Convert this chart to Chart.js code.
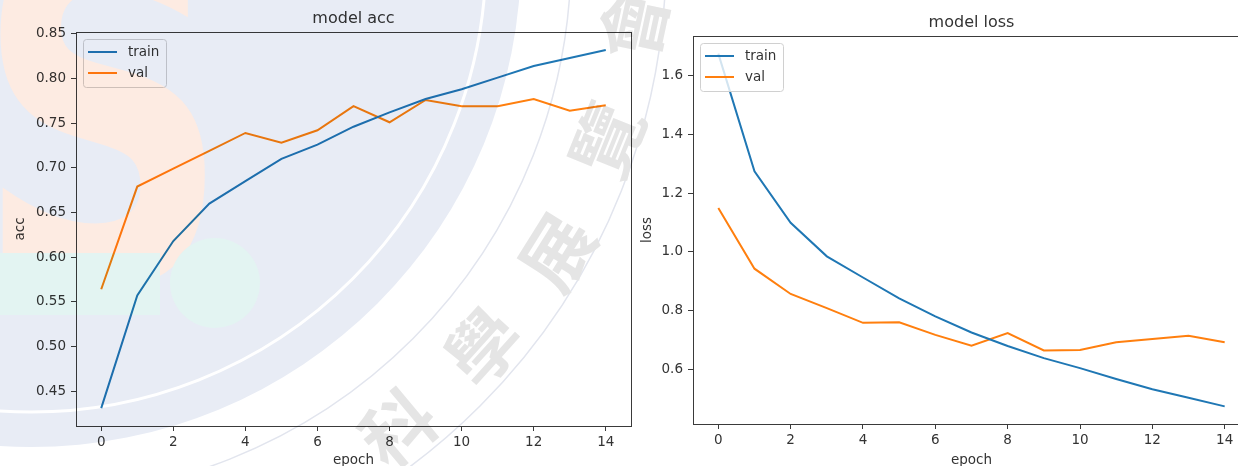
<!DOCTYPE html>
<html>
<head>
<meta charset="utf-8">
<script src="https://cdn.jsdelivr.net/npm/chart.js@4/dist/chart.umd.min.js"></script>
<style>
  body { margin: 0; width: 1238px; height: 466px; overflow: hidden; background: #fff; position: relative; }
  canvas { position: absolute; top: 0; }
  #acc { left: 0; }
  #loss { left: 618px; }
  #mark { left: 0; mix-blend-mode: multiply; pointer-events: none; }
</style>
</head>
<body>
<canvas id="acc" width="640" height="480"></canvas>
<canvas id="loss" width="650" height="480"></canvas>
<canvas id="mark" width="1238" height="466"></canvas>
<script>
const epochs = [0, 1, 2, 3, 4, 5, 6, 7, 8, 9, 10, 11, 12, 13, 14];
const accTrain = [0.431, 0.557, 0.618, 0.660, 0.685, 0.710, 0.726, 0.746, 0.762, 0.777, 0.788, 0.801, 0.814, 0.823, 0.832];
const accVal = [0.564, 0.679, 0.699, 0.719, 0.739, 0.728, 0.742, 0.769, 0.751, 0.776, 0.769, 0.769, 0.777, 0.764, 0.770];
const lossTrain = [1.674, 1.274, 1.099, 0.985, 0.913, 0.842, 0.781, 0.726, 0.680, 0.639, 0.605, 0.568, 0.533, 0.504, 0.475];
const lossVal = [1.149, 0.943, 0.857, 0.809, 0.759, 0.761, 0.718, 0.681, 0.724, 0.665, 0.667, 0.693, 0.704, 0.715, 0.693];

const epochTicks = [0, 2, 4, 6, 8, 10, 12, 14];
const accTicks = [0.45, 0.50, 0.55, 0.60, 0.65, 0.70, 0.75, 0.80, 0.85];
const lossTicks = [0.6, 0.8, 1.0, 1.2, 1.4, 1.6];
const seriesNames = ["train", "val"];

const BLUE = "#1f77b4";
const ORANGE = "#ff7f0e";
const INK = "#333";
const FONT = { family: "'DejaVu Sans', sans-serif", size: 13.5 };

// frame, title and boxed legend drawn the way pyplot lays them out
const pyplotDecor = {
  id: "pyplotDecor",
  afterDatasetsDraw(chart, args, opts) {
    const { ctx, chartArea: a } = chart;
    ctx.save();
    ctx.strokeStyle = "#3a3a3a";
    ctx.lineWidth = 1;
    ctx.strokeRect(Math.round(a.left) + 0.5, Math.round(a.top) + 0.5,
      Math.round(a.right - a.left), Math.round(a.bottom - a.top));

    ctx.fillStyle = INK;
    ctx.font = "16px 'DejaVu Sans'";
    ctx.textAlign = "center";
    ctx.textBaseline = "middle";
    ctx.fillText(opts.title, (a.left + a.right) / 2, a.top - 13);

    // legend box, upper left
    const bx = a.left + 7, by = a.top + 7, bw = 83, bh = 48;
    ctx.beginPath();
    ctx.roundRect(bx + 0.5, by + 0.5, bw, bh, 3);
    ctx.fillStyle = "rgba(255,255,255,0.8)";
    ctx.fill();
    ctx.strokeStyle = "#d0d0d0";
    ctx.stroke();
    ctx.font = "13.5px 'DejaVu Sans'";
    ctx.textAlign = "left";
    chart.data.datasets.forEach((ds, i) => {
      const y = by + 13 + i * 21;
      ctx.strokeStyle = ds.borderColor;
      ctx.lineWidth = 2;
      ctx.beginPath();
      ctx.moveTo(bx + 5, y);
      ctx.lineTo(bx + 34, y);
      ctx.stroke();
      ctx.fillStyle = INK;
      ctx.fillText(ds.label, bx + 45, y);
    });
    ctx.restore();
  }
};

function series(values) {
  return epochs.map((e, i) => ({ x: e, y: values[i] }));
}

function makeChart(id, cfg) {
  const lo = Math.min(...cfg.train, ...cfg.val);
  const hi = Math.max(...cfg.train, ...cfg.val);
  const pad = (hi - lo) * 0.05;
  return new Chart(document.getElementById(id), {
    type: "line",
    data: {
      datasets: [
        { label: seriesNames[0], data: series(cfg.train), borderColor: BLUE },
        { label: seriesNames[1], data: series(cfg.val), borderColor: ORANGE },
      ],
    },
    options: {
      responsive: false,
      animation: false,
      events: [],
      layout: { padding: { top: cfg.top, right: cfg.right, left: 0, bottom: 0 } },
      elements: {
        line: { borderWidth: 2, tension: 0, fill: false },
        point: { radius: 0 },
      },
      scales: {
        x: {
          type: "linear",
          min: -0.7,
          max: 14.7,
          afterBuildTicks: (s) => { s.ticks = epochTicks.map((v) => ({ value: v })); },
          afterFit: (s) => { s.height = cfg.xh; },
          ticks: { font: FONT, color: INK, padding: 3, maxRotation: 0, autoSkip: false, callback: (v) => String(v) },
          grid: { drawOnChartArea: false, drawTicks: true, tickLength: 5, tickColor: "#3a3a3a" },
          border: { display: false },
          title: { display: true, text: "epoch", font: FONT, color: INK, padding: { top: 0, bottom: 11 } },
        },
        y: {
          type: "linear",
          min: lo - pad,
          max: hi + pad,
          afterBuildTicks: (s) => { s.ticks = cfg.ticks.map((v) => ({ value: v })); },
          afterFit: (s) => { s.width = cfg.yw; },
          ticks: { font: FONT, color: INK, padding: 5, callback: (v) => v.toFixed(cfg.digits) },
          grid: { drawOnChartArea: false, drawTicks: true, tickLength: 5, tickColor: "#3a3a3a" },
          border: { display: false },
          title: { display: true, text: cfg.ylabel, font: FONT, color: INK, padding: { top: cfg.ytp, bottom: 0 } },
        },
      },
      plugins: {
        legend: { display: false },
        tooltip: { enabled: false },
        pyplotDecor: { title: cfg.title },
      },
    },
    plugins: [pyplotDecor],
  });
}

makeChart("acc", {
  train: accTrain, val: accVal, ticks: accTicks, digits: 2,
  title: "model acc", ylabel: "acc",
  top: 32, right: 9, yw: 76, xh: 54, ytp: 12,
});

makeChart("loss", {
  train: lossTrain, val: lossVal, ticks: lossTicks, digits: 1,
  title: "model loss", ylabel: "loss",
  top: 36, right: 18, yw: 75, xh: 56, ytp: 21,
});

// fair emblem stamped over the figure
const m = document.getElementById("mark").getContext("2d");
const cx = 31, cy = -43;
m.fillStyle = "#e8ecf5";
m.beginPath();
m.arc(cx, cy, 490, 0, Math.PI * 2);
m.fill();

m.save();
m.translate(-25, 282);
m.scale(0.74, 1);
m.fillStyle = "#fdebe2";
m.font = "bold 480px 'DejaVu Sans'";
m.fillText("S", 0, 0);
m.restore();

m.fillStyle = "#e3f4f2";
m.fillRect(0, 253, 160, 62);
m.beginPath();
m.arc(215, 283, 45, 0, Math.PI * 2);
m.fill();

m.strokeStyle = "#ffffff";
m.lineWidth = 3;
m.beginPath();
m.arc(cx, cy, 455, 0, Math.PI * 2);
m.stroke();

m.strokeStyle = "#e2e5ee";
m.lineWidth = 1.5;
[540, 635].forEach((r) => {
  m.beginPath();
  m.arc(cx, cy, r, 0, Math.PI * 2);
  m.stroke();
});

const fairChars = [
  { t: "科", x: 398, y: 428, a: -40 },
  { t: "學", x: 483, y: 347, a: -48 },
  { t: "展", x: 557, y: 252, a: -58 },
  { t: "覽", x: 607, y: 140, a: -68 },
  { t: "會", x: 634, y: 24, a: -78 },
];
m.fillStyle = "#e5e5e5";
m.font = "bold 72px 'Noto Sans CJK TC'";
m.textAlign = "center";
m.textBaseline = "middle";
fairChars.forEach((c) => {
  m.save();
  m.translate(c.x, c.y);
  m.rotate((c.a * Math.PI) / 180);
  m.fillText(c.t, 0, 0);
  m.restore();
});
</script>
</body>
</html>
